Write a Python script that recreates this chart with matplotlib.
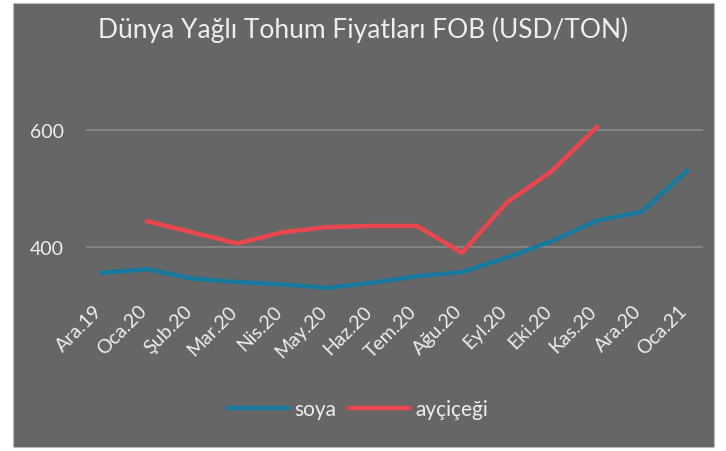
import matplotlib
matplotlib.use("Agg")
import matplotlib.pyplot as plt
import matplotlib.transforms as mtransforms
from matplotlib.patches import Rectangle
import numpy as np

categories = ["Ara.19", "Oca.20", "Şub.20", "Mar.20", "Nis.20", "May.20", "Haz.20",
              "Tem.20", "Ağu.20", "Eyl.20", "Eki.20", "Kas.20", "Ara.20", "Oca.21"]
soya = [356, 362, 346, 340, 336, 330, 339, 350, 357, 382, 410, 445, 460, 530]
aycicegi = [None, 444, 425, 406, 425, 434, 436, 436, 390, 476, 530, 605, None, None]
yticks = [400, 600]

plt.rcParams['font.family'] = ['Lato', 'DejaVu Sans']

BG = "#666666"
TXT = "#EEEEEE"

fig = plt.figure(figsize=(7.26, 4.52), dpi=100)
fig.patch.set_facecolor("white")
bg = fig.add_axes([0, 0, 1, 1], zorder=-10)
bg.set_axis_off()
bg.set_xlim(0, 1)
bg.set_ylim(0, 1)
bg.add_patch(Rectangle((13/726, 1-448/452), (714-13)/726, (448-4)/452,
                       facecolor=BG, edgecolor="#BBBBBB", linewidth=0.8))

ax = fig.add_axes([86/726, 1-300.6/452, (703-86)/726, (300.6-72.5)/452], zorder=1)
ax.set_facecolor("none")
x = np.arange(len(categories))
s = np.array(soya, dtype=float)
a = np.array([np.nan if v is None else v for v in aycicegi], dtype=float)
ax.plot(x, s, color="#17789E", lw=3.2, label="soya")
ax.plot(x, a, color="#E9474D", lw=3.2, label="ayçiçeği")

ax.set_xlim(-0.36, 13.36)
ax.set_ylim(310, 700)
ax.set_yticks(yticks)
ax.yaxis.grid(True, color="#8A8A8A", lw=1.2)
ax.set_axisbelow(True)
for sp in ax.spines.values():
    sp.set_visible(False)
ax.tick_params(axis="both", length=0, colors=TXT, labelsize=14)
ax.tick_params(axis="y", pad=16)
ax.set_xticks(x)
ax.set_xticklabels(categories, rotation=45, ha="right", va="top",
                   rotation_mode="anchor", fontsize=14, color=TXT)
ax.tick_params(axis="x", pad=3)
offset = mtransforms.ScaledTranslation(-9/100, 2/100, fig.dpi_scale_trans)
for lbl in ax.get_xticklabels():
    lbl.set_transform(lbl.get_transform() + offset)

fig.text(0.5, 1-30/452, "Dünya Yağlı Tohum Fiyatları FOB (USD/TON)",
         ha="center", va="center", fontsize=19, color=TXT)

leg = fig.legend(loc="center", bbox_to_anchor=(358/726, 1-410/452), ncol=2,
                 frameon=False, fontsize=15, handlelength=2.9, handletextpad=0.3,
                 columnspacing=0.6)
for t in leg.get_texts():
    t.set_color(TXT)

fig.savefig("out.png", dpi=100, facecolor="white")
